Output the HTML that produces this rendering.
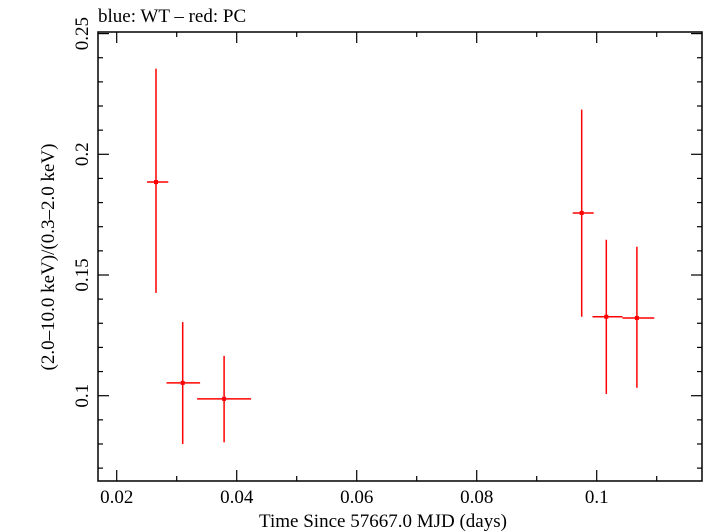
<!DOCTYPE html>
<html><head><meta charset="utf-8"><style>
html,body{margin:0;padding:0;background:#fff;}
svg{display:block;font-family:"Liberation Serif",serif;}
</style></head><body>
<svg id="chart" width="705" height="532" viewBox="0 0 705 532" xmlns="http://www.w3.org/2000/svg">
<text x="98" y="22" font-size="19">blue: WT – red: PC</text>
<text x="383" y="527" font-size="19" text-anchor="middle">Time Since 57667.0 MJD (days)</text>
<text transform="translate(54,257) rotate(-90)" font-size="19" text-anchor="middle">(2.0–10.0 keV)/(0.3–2.0 keV)</text>
<g id="axes"></g>
<g id="marks"></g>
<rect x="98" y="32" width="604" height="449" fill="none" stroke="#000" stroke-width="1.5"/>
</svg>
<script>
const xVals=[0.02655,0.0310,0.0379,0.0975,0.1016,0.1067];
const xLo=[0.02505,0.0283,0.0334,0.0960,0.0993,0.1043];
const xHi=[0.0286,0.0339,0.0424,0.0995,0.1043,0.1096];
const yVals=[0.1885,0.1053,0.0987,0.1757,0.1327,0.1322];
const yLo=[0.1426,0.0800,0.0807,0.1327,0.1007,0.1033];
const yHi=[0.2355,0.1305,0.1165,0.2185,0.1646,0.1617];
const xTicks=[0.02,0.04,0.06,0.08,0.1];
const xTickLabels=["0.02","0.04","0.06","0.08","0.1"];
const yTicks=[0.1,0.15,0.2,0.25];
const yTickLabels=["0.1","0.15","0.2","0.25"];
const L=98,R=702,T=32,B=481;
function sx(v){return 116.7+(v-0.02)*6000;}
function sy(v){return 395.7-(v-0.1)*2414;}
const NS="http://www.w3.org/2000/svg";
const axes=document.getElementById('axes'),marks=document.getElementById('marks');
function ln(p,x1,y1,x2,y2,c,w,name){const e=document.createElementNS(NS,'line');
e.setAttribute('x1',x1);e.setAttribute('y1',y1);e.setAttribute('x2',x2);e.setAttribute('y2',y2);
e.setAttribute('stroke',c);e.setAttribute('stroke-width',w);


p.appendChild(e);return e;}
function tx(x,y,s,anchor,rot,name){const e=document.createElementNS(NS,'text');
e.setAttribute('font-size','19');e.setAttribute('text-anchor',anchor);
if(rot){e.setAttribute('transform','translate('+x+','+y+') rotate(-90)');}else{e.setAttribute('x',x);e.setAttribute('y',y);}
e.textContent=s;


axes.appendChild(e);}
for(let i=0;i<=12;i++){const v=0.01+i*0.01;const x=sx(v);if(x<L||x>R)continue;
 const major=Math.abs(v/0.02-Math.round(v/0.02))<1e-6;const len=major?11:5;
 ln(axes,x,B,x,B-len,'#000',1.2,'x-tick');ln(axes,x,T,x,T+len,'#000',1.2,'x-tick-top');}
for(let i=0;i<xTicks.length;i++)tx(sx(xTicks[i]),503,xTickLabels[i],'middle',false,'x-tick-label');
for(let i=0;i<=20;i++){const v=0.06+i*0.01;const y=sy(v);if(y<T||y>B)continue;
 const major=Math.abs(v/0.05-Math.round(v/0.05))<1e-6;const len=major?11:5;
 ln(axes,L,y,L+len,y,'#000',1.2,'y-tick');ln(axes,R,y,R-len,y,'#000',1.2,'y-tick-right');}
for(let i=0;i<yTicks.length;i++)tx(88,sy(yTicks[i]),yTickLabels[i],'middle',true,'y-tick-label');
for(let i=0;i<xVals.length;i++){
 ln(marks,sx(xLo[i]),sy(yVals[i]),sx(xHi[i]),sy(yVals[i]),'#f00',1.5,'x-error-bar');
 ln(marks,sx(xVals[i]),sy(yLo[i]),sx(xVals[i]),sy(yHi[i]),'#f00',1.5,'y-error-bar');
 const c=document.createElementNS(NS,'rect');
 c.setAttribute('x',sx(xVals[i])-2);c.setAttribute('y',sy(yVals[i])-2);c.setAttribute('width',4);c.setAttribute('height',4);c.setAttribute('fill','#f00');
 
 
 marks.appendChild(c);}
</script>
</body></html>
